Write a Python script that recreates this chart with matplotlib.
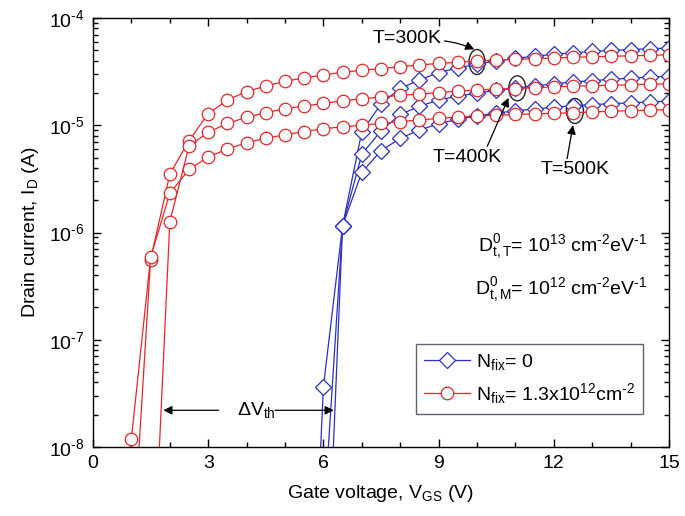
import numpy as np
import matplotlib
matplotlib.use("Agg")
import matplotlib.pyplot as plt
from matplotlib.ticker import MultipleLocator, LogLocator, NullFormatter, FixedLocator
from matplotlib.patches import Ellipse
from matplotlib.transforms import ScaledTranslation

plt.rcParams['font.family'] = ['Liberation Sans', 'DejaVu Sans']
plt.rcParams['mathtext.fontset'] = 'custom'
plt.rcParams['mathtext.rm'] = 'Liberation Sans'
plt.rcParams['mathtext.it'] = 'Liberation Sans:italic'
plt.rcParams['mathtext.bf'] = 'Liberation Sans:bold'

# ---------------- data ----------------
# N_fix = 1.3e12 cm^-2 (red, circles), V_GS = 1.0 ... 15.0 step 0.5
vgs_red = [1.0, 1.5, 2.0, 2.5, 3.0, 3.5, 4.0, 4.5, 5.0, 5.5, 6.0, 6.5, 7.0, 7.5,
           8.0, 8.5, 9.0, 9.5, 10.0, 10.5, 11.0, 11.5, 12.0, 12.5, 13.0, 13.5,
           14.0, 14.5, 15.0]
red_300K = [7.0e-10, 5.6e-7, 3.5e-6, 7.2e-6, 1.28e-5, 1.72e-5, 2.06e-5, 2.32e-5,
            2.57e-5, 2.77e-5, 2.94e-5, 3.12e-5, 3.25e-5, 3.38e-5, 3.52e-5,
            3.65e-5, 3.77e-5, 3.87e-5, 3.97e-5, 4.06e-5, 4.12e-5, 4.17e-5,
            4.24e-5, 4.30e-5, 4.35e-5, 4.40e-5, 4.44e-5, 4.49e-5, 4.54e-5]
red_400K = [1.0e-11, 1.7e-10, 1.26e-6, 6.4e-6, 8.59e-6, 1.04e-5, 1.19e-5, 1.31e-5,
            1.43e-5, 1.51e-5, 1.60e-5, 1.69e-5, 1.77e-5, 1.83e-5, 1.91e-5,
            1.95e-5, 2.02e-5, 2.08e-5, 2.13e-5, 2.17e-5, 2.20e-5, 2.24e-5,
            2.28e-5, 2.31e-5, 2.34e-5, 2.36e-5, 2.39e-5, 2.41e-5, 2.43e-5]
red_500K = [1.2e-8, 5.87e-7, 2.32e-6, 3.88e-6, 5.06e-6, 6.01e-6, 6.88e-6, 7.55e-6,
            8.16e-6, 8.74e-6, 9.27e-6, 9.69e-6, 1.00e-5, 1.04e-5, 1.08e-5,
            1.12e-5, 1.16e-5, 1.19e-5, 1.22e-5, 1.24e-5, 1.26e-5, 1.28e-5,
            1.29e-5, 1.31e-5, 1.33e-5, 1.35e-5, 1.37e-5, 1.38e-5, 1.40e-5]
red_500K_start = [0.5, 1.0e-11]   # point below the axis that precedes 1.0 V

# N_fix = 0 (blue, diamonds), V_GS = 5.5 ... 15.0 step 0.5
vgs_blue = [5.5, 6.0, 6.5, 7.0, 7.5, 8.0, 8.5, 9.0, 9.5, 10.0, 10.5, 11.0,
            11.5, 12.0, 12.5, 13.0, 13.5, 14.0, 14.5, 15.0]
blue_300K = [1.0e-12, 1.9e-9, 1.16e-6, 8.71e-6, 1.58e-5, 2.21e-5, 2.64e-5,
             3.10e-5, 3.42e-5, 3.72e-5, 3.97e-5, 4.21e-5, 4.40e-5, 4.59e-5,
             4.74e-5, 4.88e-5, 4.98e-5, 5.08e-5, 5.17e-5, 5.25e-5]
blue_400K = [1.0e-13, 5.9e-11, 1.16e-6, 5.36e-6, 8.89e-6, 1.26e-5, 1.50e-5,
             1.72e-5, 1.87e-5, 2.00e-5, 2.12e-5, 2.22e-5, 2.33e-5, 2.43e-5,
             2.53e-5, 2.61e-5, 2.68e-5, 2.75e-5, 2.81e-5, 2.86e-5]
blue_500K = [4.0e-12, 3.65e-8, 1.16e-6, 3.64e-6, 5.79e-6, 7.55e-6, 9.03e-6,
             1.03e-5, 1.14e-5, 1.22e-5, 1.30e-5, 1.36e-5, 1.42e-5, 1.47e-5,
             1.52e-5, 1.56e-5, 1.59e-5, 1.62e-5, 1.65e-5, 1.68e-5]

x_ticks = [0, 3, 6, 9, 12, 15]
y_ticks = [1e-8, 1e-7, 1e-6, 1e-5, 1e-4]
y_ticklabels = [r'10$^{\text{-8}}$', r'10$^{\text{-7}}$', r'10$^{\text{-6}}$',
                r'10$^{\text{-5}}$', r'10$^{\text{-4}}$']

legend_blue = r'N$_{\mathrm{fix}}$= 0'
legend_red = r'N$_{\mathrm{fix}}$= 1.3x10$^{\mathrm{12}}$cm$^{\text{-2}}$'

# ---------------- styles ----------------
RED = '#E3262A'
BLUE = '#2A30C4'
FS = 14

fig = plt.figure(figsize=(6.85, 5.16), dpi=100)
ax = fig.add_axes([0.1358, 0.1337, 0.8408, 0.8314])
ax.set_yscale('log')
ax.set_xlim(0, 15)
ax.set_ylim(1e-8, 1e-4)

mk_b = dict(color=BLUE, lw=0.9, marker='D', markersize=8.3, markerfacecolor='white',
            markeredgecolor=BLUE, markeredgewidth=0.9)
mk_r = dict(color=RED, lw=0.9, marker='o', markersize=9, markerfacecolor='white',
            markeredgecolor=RED, markeredgewidth=0.9)

lb, = ax.plot(vgs_blue, blue_300K, **mk_b)
ax.plot(vgs_blue, blue_400K, **mk_b)
ax.plot(vgs_blue, blue_500K, **mk_b)
lr, = ax.plot(vgs_red, red_300K, **mk_r)
ax.plot(vgs_red, red_400K, **mk_r)
ax.plot([red_500K_start[0]] + vgs_red, [red_500K_start[1]] + red_500K, **mk_r)

# ticks
ax.xaxis.set_major_locator(FixedLocator(x_ticks))
ax.xaxis.set_minor_locator(MultipleLocator(1))
ax.set_yticks(y_ticks)
ax.set_yticklabels(y_ticklabels)
ax.yaxis.set_minor_locator(LogLocator(base=10, subs=np.arange(2, 10)))
ax.yaxis.set_minor_formatter(NullFormatter())
ax.tick_params(which='both', direction='in', top=True, right=True, width=1.0)
ax.tick_params(which='major', length=6, labelsize=FS, pad=6)
ax.tick_params(which='minor', length=3.5)
for s in ax.spines.values():
    s.set_linewidth(1.0)

ax.set_xlabel(r'Gate voltage, V$_{\mathrm{GS}}$ (V)', fontsize=FS, labelpad=8)
ax.set_ylabel(r'Drain current, I$_{\mathrm{D}}$ (A)', fontsize=FS, labelpad=6)

# ellipses highlighting the crossings
def ellipse(x, y, w, h):
    e = Ellipse((0, 0), w, h, fill=False, ec='#222222', lw=1.0,
                transform=fig.dpi_scale_trans + ScaledTranslation(x, y, ax.transData))
    ax.add_artist(e)

ellipse(10.0, 3.89e-5, 0.16, 0.25)
ellipse(11.05, 2.21e-5, 0.17, 0.25)
ellipse(12.55, 1.36e-5, 0.17, 0.25)

arr = dict(arrowstyle='-|>', color='black', lw=0.9, mutation_scale=13, shrinkA=0, shrinkB=0)
ax.annotate('T=300K', xy=(9.93, 5.1e-5), xytext=(9.08, 6.5e-5), fontsize=FS,
            ha='right', va='center',
            arrowprops=dict(arr, relpos=(1.0, 0.35), connectionstyle='arc3,rad=-0.08'))
ax.annotate('T=400K', xy=(10.82, 1.8e-5), xytext=(9.75, 6.0e-6), fontsize=FS,
            ha='center', va='top', arrowprops=dict(arr, relpos=(0.77, 1.0)))
ax.annotate('T=500K', xy=(12.5, 1.0e-5), xytext=(12.55, 4.6e-6), fontsize=FS,
            ha='center', va='top', arrowprops=dict(arr, relpos=(0.38, 1.0)))

# Delta V_th
yv = 2.2e-8
ax.text(4.25, yv, r'$\Delta\mathrm{V}_{\mathrm{th}}$', fontsize=FS, ha='center', va='center')
ax.annotate('', xy=(1.83, yv), xytext=(3.27, yv), arrowprops=arr)
ax.annotate('', xy=(6.27, yv), xytext=(4.74, yv), arrowprops=arr)

# trap density text
ax.text(0.962, 0.467, r'D$^{\mathrm{0}}_{\mathrm{t,T}}$= 10$^{\mathrm{13}}$ cm$^{\text{-2}}$eV$^{\text{-1}}$',
        transform=ax.transAxes, fontsize=FS, ha='right', va='center')
ax.text(0.962, 0.366, r'D$^{\mathrm{0}}_{\mathrm{t,M}}$= 10$^{\mathrm{12}}$ cm$^{\text{-2}}$eV$^{\text{-1}}$',
        transform=ax.transAxes, fontsize=FS, ha='right', va='center')

leg = ax.legend([lb, lr], [legend_blue, legend_red], loc='upper right',
                bbox_to_anchor=(0.955, 0.239), fontsize=FS, frameon=True,
                fancybox=False, handlelength=2.4, handletextpad=0.3,
                borderpad=0.4, labelspacing=0.45, borderaxespad=0)
leg.get_frame().set_edgecolor('#3a3a55')
leg.get_frame().set_linewidth(1.0)

fig.savefig('out.png', dpi=100)
